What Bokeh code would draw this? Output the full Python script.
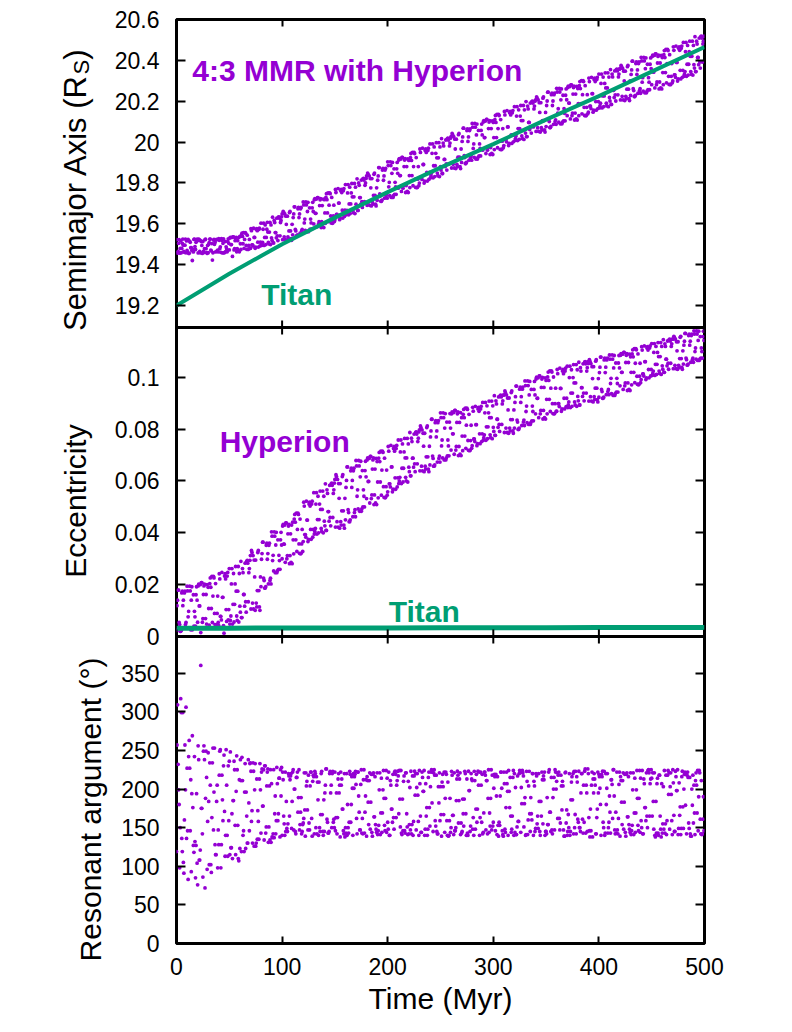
from bokeh.plotting import figure
from bokeh.models import (ColumnDataSource, Range1d, LinearAxis, FixedTicker, Label,
                          CustomLabelingPolicy)
from bokeh.layouts import row
from bokeh.embed import file_html
from bokeh.resources import INLINE

FONT = "Liberation Sans"
PURPLE = "#9400D3"
GREEN = "#009E73"

# ---------------- data ----------------
time_myr = [
    0, 1, 2, 3, 4, 5, 6, 7, 8, 9, 10, 11, 12, 13, 14, 15, 16, 17, 18, 19,
    20, 21, 22, 23, 24, 25, 26, 27, 28, 29, 30, 31, 32, 33, 34, 35, 36, 37, 38, 39,
    40, 41, 42, 43, 44, 45, 46, 47, 48, 49, 50, 51, 52, 53, 54, 55, 56, 57, 58, 59,
    60, 61, 62, 63, 64, 65, 66, 67, 68, 69, 70, 71, 72, 73, 74, 75, 76, 77, 78, 79,
    80, 81, 82, 83, 84, 85, 86, 87, 88, 89, 90, 91, 92, 93, 94, 95, 96, 97, 98, 99,
    100, 101, 102, 103, 104, 105, 106, 107, 108, 109, 110, 111, 112, 113, 114, 115, 116, 117, 118, 119,
    120, 121, 122, 123, 124, 125, 126, 127, 128, 129, 130, 131, 132, 133, 134, 135, 136, 137, 138, 139,
    140, 141, 142, 143, 144, 145, 146, 147, 148, 149, 150, 151, 152, 153, 154, 155, 156, 157, 158, 159,
    160, 161, 162, 163, 164, 165, 166, 167, 168, 169, 170, 171, 172, 173, 174, 175, 176, 177, 178, 179,
    180, 181, 182, 183, 184, 185, 186, 187, 188, 189, 190, 191, 192, 193, 194, 195, 196, 197, 198, 199,
    200, 201, 202, 203, 204, 205, 206, 207, 208, 209, 210, 211, 212, 213, 214, 215, 216, 217, 218, 219,
    220, 221, 222, 223, 224, 225, 226, 227, 228, 229, 230, 231, 232, 233, 234, 235, 236, 237, 238, 239,
    240, 241, 242, 243, 244, 245, 246, 247, 248, 249, 250, 251, 252, 253, 254, 255, 256, 257, 258, 259,
    260, 261, 262, 263, 264, 265, 266, 267, 268, 269, 270, 271, 272, 273, 274, 275, 276, 277, 278, 279,
    280, 281, 282, 283, 284, 285, 286, 287, 288, 289, 290, 291, 292, 293, 294, 295, 296, 297, 298, 299,
    300, 301, 302, 303, 304, 305, 306, 307, 308, 309, 310, 311, 312, 313, 314, 315, 316, 317, 318, 319,
    320, 321, 322, 323, 324, 325, 326, 327, 328, 329, 330, 331, 332, 333, 334, 335, 336, 337, 338, 339,
    340, 341, 342, 343, 344, 345, 346, 347, 348, 349, 350, 351, 352, 353, 354, 355, 356, 357, 358, 359,
    360, 361, 362, 363, 364, 365, 366, 367, 368, 369, 370, 371, 372, 373, 374, 375, 376, 377, 378, 379,
    380, 381, 382, 383, 384, 385, 386, 387, 388, 389, 390, 391, 392, 393, 394, 395, 396, 397, 398, 399,
    400, 401, 402, 403, 404, 405, 406, 407, 408, 409, 410, 411, 412, 413, 414, 415, 416, 417, 418, 419,
    420, 421, 422, 423, 424, 425, 426, 427, 428, 429, 430, 431, 432, 433, 434, 435, 436, 437, 438, 439,
    440, 441, 442, 443, 444, 445, 446, 447, 448, 449, 450, 451, 452, 453, 454, 455, 456, 457, 458, 459,
    460, 461, 462, 463, 464, 465, 466, 467, 468, 469, 470, 471, 472, 473, 474, 475, 476, 477, 478, 479,
    480, 481, 482, 483, 484, 485, 486, 487, 488, 489, 490, 491, 492, 493, 494, 495, 496, 497, 498, 499,
]

time_myr_b = [
    0.5, 1.5, 2.5, 3.5, 4.5, 5.5, 6.5, 7.5, 8.5, 9.5, 10.5, 11.5, 12.5, 13.5, 14.5, 15.5, 16.5, 17.5, 18.5, 19.5,
    20.5, 21.5, 22.5, 23.5, 24.5, 25.5, 26.5, 27.5, 28.5, 29.5, 30.5, 31.5, 32.5, 33.5, 34.5, 35.5, 36.5, 37.5, 38.5, 39.5,
    40.5, 41.5, 42.5, 43.5, 44.5, 45.5, 46.5, 47.5, 48.5, 49.5, 50.5, 51.5, 52.5, 53.5, 54.5, 55.5, 56.5, 57.5, 58.5, 59.5,
    60.5, 61.5, 62.5, 63.5, 64.5, 65.5, 66.5, 67.5, 68.5, 69.5, 70.5, 71.5, 72.5, 73.5, 74.5, 75.5, 76.5, 77.5, 78.5, 79.5,
    80.5, 81.5, 82.5, 83.5, 84.5, 85.5, 86.5, 87.5, 88.5, 89.5, 90.5, 91.5, 92.5, 93.5, 94.5, 95.5, 96.5, 97.5, 98.5, 99.5,
    100.5, 101.5, 102.5, 103.5, 104.5, 105.5, 106.5, 107.5, 108.5, 109.5, 110.5, 111.5, 112.5, 113.5, 114.5, 115.5, 116.5, 117.5, 118.5, 119.5,
    120.5, 121.5, 122.5, 123.5, 124.5, 125.5, 126.5, 127.5, 128.5, 129.5, 130.5, 131.5, 132.5, 133.5, 134.5, 135.5, 136.5, 137.5, 138.5, 139.5,
    140.5, 141.5, 142.5, 143.5, 144.5, 145.5, 146.5, 147.5, 148.5, 149.5, 150.5, 151.5, 152.5, 153.5, 154.5, 155.5, 156.5, 157.5, 158.5, 159.5,
    160.5, 161.5, 162.5, 163.5, 164.5, 165.5, 166.5, 167.5, 168.5, 169.5, 170.5, 171.5, 172.5, 173.5, 174.5, 175.5, 176.5, 177.5, 178.5, 179.5,
    180.5, 181.5, 182.5, 183.5, 184.5, 185.5, 186.5, 187.5, 188.5, 189.5, 190.5, 191.5, 192.5, 193.5, 194.5, 195.5, 196.5, 197.5, 198.5, 199.5,
    200.5, 201.5, 202.5, 203.5, 204.5, 205.5, 206.5, 207.5, 208.5, 209.5, 210.5, 211.5, 212.5, 213.5, 214.5, 215.5, 216.5, 217.5, 218.5, 219.5,
    220.5, 221.5, 222.5, 223.5, 224.5, 225.5, 226.5, 227.5, 228.5, 229.5, 230.5, 231.5, 232.5, 233.5, 234.5, 235.5, 236.5, 237.5, 238.5, 239.5,
    240.5, 241.5, 242.5, 243.5, 244.5, 245.5, 246.5, 247.5, 248.5, 249.5, 250.5, 251.5, 252.5, 253.5, 254.5, 255.5, 256.5, 257.5, 258.5, 259.5,
    260.5, 261.5, 262.5, 263.5, 264.5, 265.5, 266.5, 267.5, 268.5, 269.5, 270.5, 271.5, 272.5, 273.5, 274.5, 275.5, 276.5, 277.5, 278.5, 279.5,
    280.5, 281.5, 282.5, 283.5, 284.5, 285.5, 286.5, 287.5, 288.5, 289.5, 290.5, 291.5, 292.5, 293.5, 294.5, 295.5, 296.5, 297.5, 298.5, 299.5,
    300.5, 301.5, 302.5, 303.5, 304.5, 305.5, 306.5, 307.5, 308.5, 309.5, 310.5, 311.5, 312.5, 313.5, 314.5, 315.5, 316.5, 317.5, 318.5, 319.5,
    320.5, 321.5, 322.5, 323.5, 324.5, 325.5, 326.5, 327.5, 328.5, 329.5, 330.5, 331.5, 332.5, 333.5, 334.5, 335.5, 336.5, 337.5, 338.5, 339.5,
    340.5, 341.5, 342.5, 343.5, 344.5, 345.5, 346.5, 347.5, 348.5, 349.5, 350.5, 351.5, 352.5, 353.5, 354.5, 355.5, 356.5, 357.5, 358.5, 359.5,
    360.5, 361.5, 362.5, 363.5, 364.5, 365.5, 366.5, 367.5, 368.5, 369.5, 370.5, 371.5, 372.5, 373.5, 374.5, 375.5, 376.5, 377.5, 378.5, 379.5,
    380.5, 381.5, 382.5, 383.5, 384.5, 385.5, 386.5, 387.5, 388.5, 389.5, 390.5, 391.5, 392.5, 393.5, 394.5, 395.5, 396.5, 397.5, 398.5, 399.5,
    400.5, 401.5, 402.5, 403.5, 404.5, 405.5, 406.5, 407.5, 408.5, 409.5, 410.5, 411.5, 412.5, 413.5, 414.5, 415.5, 416.5, 417.5, 418.5, 419.5,
    420.5, 421.5, 422.5, 423.5, 424.5, 425.5, 426.5, 427.5, 428.5, 429.5, 430.5, 431.5, 432.5, 433.5, 434.5, 435.5, 436.5, 437.5, 438.5, 439.5,
    440.5, 441.5, 442.5, 443.5, 444.5, 445.5, 446.5, 447.5, 448.5, 449.5, 450.5, 451.5, 452.5, 453.5, 454.5, 455.5, 456.5, 457.5, 458.5, 459.5,
    460.5, 461.5, 462.5, 463.5, 464.5, 465.5, 466.5, 467.5, 468.5, 469.5, 470.5, 471.5, 472.5, 473.5, 474.5, 475.5, 476.5, 477.5, 478.5, 479.5,
    480.5, 481.5, 482.5, 483.5, 484.5, 485.5, 486.5, 487.5, 488.5, 489.5, 490.5, 491.5, 492.5, 493.5, 494.5, 495.5, 496.5, 497.5, 498.5, 499.5,
]

hyperion_a = [
    19.522, 19.460, 19.504, 19.456, 19.516, 19.479, 19.525, 19.465, 19.495, 19.458,
    19.469, 19.523, 19.455, 19.509, 19.483, 19.420, 19.462, 19.524, 19.474, 19.515,
    19.518, 19.524, 19.464, 19.457, 19.494, 19.513, 19.459, 19.522, 19.478, 19.455,
    19.458, 19.508, 19.525, 19.467, 19.422, 19.520, 19.499, 19.462, 19.523, 19.471,
    19.527, 19.478, 19.460, 19.519, 19.504, 19.457, 19.513, 19.487, 19.463, 19.526,
    19.472, 19.533, 19.498, 19.440, 19.536, 19.478, 19.530, 19.463, 19.517, 19.533,
    19.538, 19.474, 19.554, 19.502, 19.479, 19.557, 19.494, 19.544, 19.475, 19.523,
    19.480, 19.566, 19.497, 19.578, 19.533, 19.486, 19.576, 19.510, 19.572, 19.491,
    19.603, 19.501, 19.573, 19.494, 19.594, 19.533, 19.607, 19.509, 19.559, 19.498,
    19.531, 19.632, 19.506, 19.606, 19.557, 19.627, 19.518, 19.634, 19.541, 19.616,
    19.648, 19.660, 19.536, 19.522, 19.597, 19.637, 19.527, 19.655, 19.565, 19.519,
    19.546, 19.648, 19.683, 19.565, 19.541, 19.673, 19.630, 19.554, 19.680, 19.572,
    19.707, 19.604, 19.567, 19.692, 19.660, 19.561, 19.678, 19.623, 19.573, 19.705,
    19.599, 19.723, 19.651, 19.585, 19.728, 19.610, 19.717, 19.581, 19.689, 19.721,
    19.718, 19.602, 19.747, 19.653, 19.611, 19.751, 19.638, 19.729, 19.604, 19.691,
    19.620, 19.753, 19.646, 19.772, 19.701, 19.628, 19.768, 19.666, 19.762, 19.636,
    19.792, 19.654, 19.751, 19.644, 19.779, 19.697, 19.797, 19.665, 19.732, 19.650,
    19.696, 19.820, 19.665, 19.788, 19.728, 19.814, 19.680, 19.822, 19.708, 19.800,
    19.834, 19.848, 19.706, 19.690, 19.776, 19.821, 19.696, 19.842, 19.739, 19.687,
    19.715, 19.834, 19.875, 19.737, 19.710, 19.863, 19.813, 19.725, 19.871, 19.746,
    19.903, 19.781, 19.737, 19.885, 19.847, 19.729, 19.869, 19.803, 19.744, 19.900,
    19.774, 19.919, 19.836, 19.758, 19.925, 19.787, 19.912, 19.753, 19.880, 19.917,
    19.910, 19.777, 19.944, 19.836, 19.786, 19.949, 19.818, 19.924, 19.778, 19.880,
    19.799, 19.949, 19.829, 19.970, 19.890, 19.809, 19.966, 19.851, 19.959, 19.817,
    19.991, 19.835, 19.945, 19.825, 19.976, 19.884, 19.997, 19.848, 19.923, 19.831,
    19.880, 20.017, 19.846, 19.981, 19.915, 20.010, 19.863, 20.019, 19.893, 19.995,
    20.027, 20.042, 19.891, 19.873, 19.966, 20.014, 19.880, 20.036, 19.926, 19.870,
    19.900, 20.025, 20.068, 19.924, 19.895, 20.056, 20.003, 19.911, 20.064, 19.933,
    20.091, 19.969, 19.925, 20.073, 20.035, 19.917, 20.057, 19.991, 19.932, 20.088,
    19.960, 20.105, 20.022, 19.944, 20.111, 19.973, 20.098, 19.939, 20.066, 20.103,
    20.096, 19.963, 20.130, 20.022, 19.972, 20.135, 20.004, 20.110, 19.964, 20.066,
    19.983, 20.133, 20.013, 20.154, 20.074, 19.993, 20.150, 20.035, 20.143, 20.001,
    20.173, 20.017, 20.127, 20.007, 20.158, 20.066, 20.179, 20.030, 20.105, 20.013,
    20.061, 20.198, 20.027, 20.162, 20.096, 20.191, 20.044, 20.200, 20.074, 20.176,
    20.206, 20.221, 20.070, 20.052, 20.145, 20.193, 20.059, 20.215, 20.105, 20.049,
    20.076, 20.201, 20.244, 20.100, 20.071, 20.232, 20.179, 20.087, 20.240, 20.109,
    20.263, 20.141, 20.097, 20.245, 20.207, 20.089, 20.229, 20.163, 20.104, 20.260,
    20.129, 20.274, 20.191, 20.113, 20.280, 20.142, 20.267, 20.108, 20.235, 20.272,
    20.262, 20.129, 20.296, 20.188, 20.138, 20.301, 20.170, 20.276, 20.130, 20.232,
    20.146, 20.296, 20.176, 20.317, 20.237, 20.156, 20.313, 20.198, 20.306, 20.164,
    20.333, 20.177, 20.287, 20.167, 20.318, 20.226, 20.339, 20.190, 20.265, 20.173,
    20.218, 20.355, 20.184, 20.319, 20.253, 20.348, 20.201, 20.357, 20.231, 20.333,
    20.360, 20.375, 20.224, 20.206, 20.299, 20.347, 20.213, 20.369, 20.259, 20.203,
    20.228, 20.353, 20.396, 20.252, 20.223, 20.384, 20.331, 20.239, 20.392, 20.261,
    20.415, 20.293, 20.249, 20.397, 20.359, 20.241, 20.381, 20.315, 20.256, 20.412,
    20.281, 20.426, 20.343, 20.265, 20.432, 20.294, 20.419, 20.260, 20.387, 20.424,
    20.414, 20.281, 20.448, 20.340, 20.290, 20.453, 20.322, 20.428, 20.282, 20.384,
    20.299, 20.449, 20.329, 20.470, 20.390, 20.309, 20.466, 20.351, 20.459, 20.317,
    20.488, 20.332, 20.442, 20.322, 20.473, 20.381, 20.494, 20.345, 20.420, 20.328,
    20.379, 20.516, 20.345, 20.480, 20.414, 20.509, 20.362, 20.518, 20.392, 20.494,
]

hyperion_a_b = [
    19.456, 19.465, 19.522, 19.479, 19.458, 19.504, 19.495, 19.460, 19.525, 19.516,
    19.462, 19.455, 19.515, 19.483, 19.469, 19.474, 19.523, 19.488, 19.509, 19.524,
    19.457, 19.522, 19.518, 19.513, 19.455, 19.464, 19.478, 19.524, 19.459, 19.494,
    19.499, 19.525, 19.471, 19.503, 19.458, 19.523, 19.508, 19.520, 19.467, 19.462,
    19.519, 19.487, 19.527, 19.457, 19.526, 19.460, 19.463, 19.478, 19.513, 19.504,
    19.530, 19.498, 19.533, 19.536, 19.472, 19.517, 19.533, 19.478, 19.470, 19.463,
    19.502, 19.544, 19.538, 19.557, 19.523, 19.554, 19.475, 19.474, 19.494, 19.479,
    19.576, 19.497, 19.491, 19.533, 19.480, 19.572, 19.566, 19.486, 19.578, 19.510,
    19.494, 19.509, 19.603, 19.533, 19.498, 19.573, 19.559, 19.501, 19.607, 19.594,
    19.518, 19.506, 19.616, 19.557, 19.531, 19.541, 19.632, 19.627, 19.606, 19.634,
    19.522, 19.655, 19.648, 19.637, 19.519, 19.536, 19.565, 19.660, 19.527, 19.597,
    19.630, 19.683, 19.572, 19.541, 19.546, 19.680, 19.648, 19.673, 19.565, 19.554,
    19.692, 19.623, 19.707, 19.561, 19.705, 19.567, 19.573, 19.604, 19.678, 19.660,
    19.717, 19.651, 19.721, 19.728, 19.599, 19.689, 19.723, 19.610, 19.585, 19.581,
    19.653, 19.729, 19.718, 19.751, 19.691, 19.747, 19.604, 19.602, 19.638, 19.611,
    19.768, 19.646, 19.636, 19.701, 19.620, 19.762, 19.753, 19.628, 19.772, 19.666,
    19.644, 19.665, 19.792, 19.697, 19.650, 19.751, 19.732, 19.654, 19.797, 19.779,
    19.680, 19.665, 19.800, 19.728, 19.696, 19.708, 19.820, 19.814, 19.788, 19.822,
    19.690, 19.842, 19.834, 19.821, 19.687, 19.706, 19.739, 19.848, 19.696, 19.776,
    19.813, 19.875, 19.746, 19.710, 19.715, 19.871, 19.834, 19.863, 19.737, 19.725,
    19.885, 19.803, 19.903, 19.729, 19.900, 19.737, 19.744, 19.781, 19.869, 19.847,
    19.912, 19.836, 19.917, 19.925, 19.774, 19.880, 19.919, 19.787, 19.758, 19.753,
    19.836, 19.924, 19.910, 19.949, 19.880, 19.944, 19.778, 19.777, 19.818, 19.786,
    19.966, 19.829, 19.817, 19.890, 19.799, 19.959, 19.949, 19.809, 19.970, 19.851,
    19.825, 19.848, 19.991, 19.884, 19.831, 19.945, 19.923, 19.835, 19.997, 19.976,
    19.863, 19.846, 19.995, 19.915, 19.880, 19.893, 20.017, 20.010, 19.981, 20.019,
    19.873, 20.036, 20.027, 20.014, 19.870, 19.891, 19.926, 20.042, 19.880, 19.966,
    20.003, 20.068, 19.933, 19.895, 19.900, 20.064, 20.025, 20.056, 19.924, 19.911,
    20.073, 19.991, 20.091, 19.917, 20.088, 19.925, 19.932, 19.969, 20.057, 20.035,
    20.098, 20.022, 20.103, 20.111, 19.960, 20.066, 20.105, 19.973, 19.944, 19.939,
    20.022, 20.110, 20.096, 20.135, 20.066, 20.130, 19.964, 19.963, 20.004, 19.972,
    20.150, 20.013, 20.001, 20.074, 19.983, 20.143, 20.133, 19.993, 20.154, 20.035,
    20.007, 20.030, 20.173, 20.066, 20.013, 20.127, 20.105, 20.017, 20.179, 20.158,
    20.044, 20.027, 20.176, 20.096, 20.061, 20.074, 20.198, 20.191, 20.162, 20.200,
    20.052, 20.215, 20.206, 20.193, 20.049, 20.070, 20.105, 20.221, 20.059, 20.145,
    20.179, 20.244, 20.109, 20.071, 20.076, 20.240, 20.201, 20.232, 20.100, 20.087,
    20.245, 20.163, 20.263, 20.089, 20.260, 20.097, 20.104, 20.141, 20.229, 20.207,
    20.267, 20.191, 20.272, 20.280, 20.129, 20.235, 20.274, 20.142, 20.113, 20.108,
    20.188, 20.276, 20.262, 20.301, 20.232, 20.296, 20.130, 20.129, 20.170, 20.138,
    20.313, 20.176, 20.164, 20.237, 20.146, 20.306, 20.296, 20.156, 20.317, 20.198,
    20.167, 20.190, 20.333, 20.226, 20.173, 20.287, 20.265, 20.177, 20.339, 20.318,
    20.201, 20.184, 20.333, 20.253, 20.218, 20.231, 20.355, 20.348, 20.319, 20.357,
    20.206, 20.369, 20.360, 20.347, 20.203, 20.224, 20.259, 20.375, 20.213, 20.299,
    20.331, 20.396, 20.261, 20.223, 20.228, 20.392, 20.353, 20.384, 20.252, 20.239,
    20.397, 20.315, 20.415, 20.241, 20.412, 20.249, 20.256, 20.293, 20.381, 20.359,
    20.419, 20.343, 20.424, 20.432, 20.281, 20.387, 20.426, 20.294, 20.265, 20.260,
    20.340, 20.428, 20.414, 20.453, 20.384, 20.448, 20.282, 20.281, 20.322, 20.290,
    20.466, 20.329, 20.317, 20.390, 20.299, 20.459, 20.449, 20.309, 20.470, 20.351,
    20.322, 20.345, 20.488, 20.381, 20.328, 20.442, 20.420, 20.332, 20.494, 20.473,
    20.362, 20.345, 20.494, 20.414, 20.379, 20.392, 20.516, 20.509, 20.480, 20.518,
]

hyperion_e = [
    0.0024, 0.0140, 0.0179, 0.0046, 0.0020, 0.0168, 0.0119, 0.0034, 0.0175, 0.0054,
    0.0194, 0.0076, 0.0033, 0.0176, 0.0140, 0.0026, 0.0161, 0.0097, 0.0040, 0.0192,
    0.0055, 0.0202, 0.0118, 0.0015, 0.0208, 0.0069, 0.0195, 0.0034, 0.0162, 0.0200,
    0.0190, 0.0044, 0.0226, 0.0108, 0.0054, 0.0232, 0.0089, 0.0204, 0.0046, 0.0156,
    0.0042, 0.0222, 0.0078, 0.0247, 0.0151, 0.0013, 0.0242, 0.0104, 0.0233, 0.0064,
    0.0262, 0.0062, 0.0203, 0.0048, 0.0243, 0.0124, 0.0270, 0.0079, 0.0175, 0.0056,
    0.0117, 0.0290, 0.0073, 0.0246, 0.0162, 0.0283, 0.0094, 0.0294, 0.0134, 0.0262,
    0.0312, 0.0332, 0.0129, 0.0106, 0.0230, 0.0295, 0.0114, 0.0324, 0.0177, 0.0101,
    0.0192, 0.0320, 0.0364, 0.0216, 0.0187, 0.0352, 0.0298, 0.0203, 0.0360, 0.0225,
    0.0404, 0.0293, 0.0253, 0.0387, 0.0353, 0.0246, 0.0373, 0.0313, 0.0259, 0.0402,
    0.0300, 0.0432, 0.0356, 0.0286, 0.0438, 0.0312, 0.0426, 0.0281, 0.0396, 0.0430,
    0.0441, 0.0319, 0.0471, 0.0373, 0.0328, 0.0476, 0.0357, 0.0453, 0.0321, 0.0413,
    0.0366, 0.0503, 0.0393, 0.0522, 0.0449, 0.0375, 0.0518, 0.0413, 0.0511, 0.0383,
    0.0555, 0.0405, 0.0511, 0.0395, 0.0541, 0.0451, 0.0561, 0.0417, 0.0490, 0.0400,
    0.0445, 0.0589, 0.0409, 0.0552, 0.0482, 0.0583, 0.0427, 0.0592, 0.0459, 0.0566,
    0.0606, 0.0624, 0.0443, 0.0422, 0.0533, 0.0590, 0.0430, 0.0617, 0.0485, 0.0418,
    0.0450, 0.0602, 0.0654, 0.0478, 0.0443, 0.0639, 0.0575, 0.0462, 0.0649, 0.0489,
    0.0679, 0.0541, 0.0492, 0.0658, 0.0616, 0.0483, 0.0640, 0.0566, 0.0500, 0.0676,
    0.0532, 0.0689, 0.0598, 0.0515, 0.0695, 0.0546, 0.0681, 0.0509, 0.0646, 0.0687,
    0.0675, 0.0535, 0.0710, 0.0596, 0.0545, 0.0715, 0.0578, 0.0688, 0.0537, 0.0642,
    0.0558, 0.0715, 0.0589, 0.0737, 0.0654, 0.0568, 0.0733, 0.0612, 0.0725, 0.0577,
    0.0758, 0.0600, 0.0712, 0.0590, 0.0743, 0.0649, 0.0764, 0.0614, 0.0689, 0.0596,
    0.0653, 0.0787, 0.0620, 0.0752, 0.0688, 0.0781, 0.0636, 0.0789, 0.0666, 0.0765,
    0.0797, 0.0812, 0.0657, 0.0639, 0.0734, 0.0784, 0.0646, 0.0806, 0.0693, 0.0636,
    0.0662, 0.0793, 0.0838, 0.0687, 0.0657, 0.0825, 0.0770, 0.0673, 0.0833, 0.0696,
    0.0863, 0.0735, 0.0689, 0.0844, 0.0804, 0.0681, 0.0827, 0.0758, 0.0697, 0.0860,
    0.0719, 0.0866, 0.0782, 0.0703, 0.0872, 0.0733, 0.0859, 0.0698, 0.0826, 0.0864,
    0.0844, 0.0717, 0.0876, 0.0773, 0.0726, 0.0881, 0.0756, 0.0857, 0.0718, 0.0815,
    0.0736, 0.0869, 0.0762, 0.0888, 0.0817, 0.0744, 0.0884, 0.0782, 0.0878, 0.0752,
    0.0903, 0.0767, 0.0863, 0.0757, 0.0890, 0.0809, 0.0908, 0.0778, 0.0844, 0.0763,
    0.0807, 0.0929, 0.0776, 0.0897, 0.0838, 0.0924, 0.0791, 0.0931, 0.0818, 0.0909,
    0.0932, 0.0947, 0.0804, 0.0787, 0.0874, 0.0920, 0.0793, 0.0941, 0.0837, 0.0784,
    0.0804, 0.0925, 0.0966, 0.0827, 0.0799, 0.0954, 0.0903, 0.0814, 0.0962, 0.0835,
    0.0986, 0.0868, 0.0825, 0.0968, 0.0932, 0.0818, 0.0953, 0.0889, 0.0832, 0.0984,
    0.0859, 0.1000, 0.0919, 0.0844, 0.1005, 0.0872, 0.0993, 0.0839, 0.0961, 0.0998,
    0.0988, 0.0859, 0.1020, 0.0915, 0.0868, 0.1025, 0.0898, 0.1001, 0.0860, 0.0958,
    0.0869, 0.1014, 0.0898, 0.1035, 0.0957, 0.0878, 0.1030, 0.0919, 0.1024, 0.0887,
    0.1043, 0.0893, 0.0999, 0.0883, 0.1029, 0.0939, 0.1049, 0.0905, 0.0978, 0.0888,
    0.0926, 0.1058, 0.0893, 0.1024, 0.0960, 0.1052, 0.0909, 0.1060, 0.0939, 0.1037,
    0.1053, 0.1068, 0.0925, 0.0908, 0.0995, 0.1041, 0.0914, 0.1062, 0.0958, 0.0905,
    0.0923, 0.1039, 0.1078, 0.0945, 0.0919, 0.1067, 0.1018, 0.0933, 0.1074, 0.0953,
    0.1086, 0.0976, 0.0937, 0.1070, 0.1036, 0.0930, 0.1055, 0.0996, 0.0943, 0.1084,
    0.0967, 0.1091, 0.1019, 0.0953, 0.1096, 0.0978, 0.1085, 0.0949, 0.1057, 0.1089,
    0.1079, 0.0971, 0.1106, 0.1019, 0.0979, 0.1110, 0.1004, 0.1090, 0.0973, 0.1054,
    0.0991, 0.1105, 0.1013, 0.1121, 0.1060, 0.0998, 0.1118, 0.1030, 0.1113, 0.1005,
    0.1130, 0.1015, 0.1096, 0.1007, 0.1119, 0.1050, 0.1134, 0.1024, 0.1080, 0.1011,
    0.1044, 0.1145, 0.1019, 0.1119, 0.1070, 0.1140, 0.1031, 0.1147, 0.1054, 0.1129,
    0.1147, 0.1158, 0.1046, 0.1033, 0.1102, 0.1137, 0.1038, 0.1154, 0.1072, 0.1031,
    0.1051, 0.1139, 0.1169, 0.1068, 0.1047, 0.1161, 0.1124, 0.1058, 0.1166, 0.1074,
    0.1179, 0.1099, 0.1070, 0.1167, 0.1142, 0.1065, 0.1157, 0.1113, 0.1074, 0.1178,
]

hyperion_e_b = [
    0.0119, 0.0179, 0.0054, 0.0020, 0.0024, 0.0175, 0.0140, 0.0168, 0.0046, 0.0034,
    0.0176, 0.0097, 0.0194, 0.0026, 0.0192, 0.0033, 0.0040, 0.0076, 0.0161, 0.0140,
    0.0195, 0.0118, 0.0200, 0.0208, 0.0055, 0.0162, 0.0202, 0.0069, 0.0048, 0.0034,
    0.0108, 0.0204, 0.0190, 0.0232, 0.0156, 0.0226, 0.0046, 0.0044, 0.0089, 0.0054,
    0.0242, 0.0078, 0.0064, 0.0151, 0.0042, 0.0233, 0.0222, 0.0058, 0.0247, 0.0104,
    0.0048, 0.0079, 0.0262, 0.0124, 0.0056, 0.0203, 0.0175, 0.0062, 0.0270, 0.0243,
    0.0094, 0.0073, 0.0262, 0.0162, 0.0117, 0.0134, 0.0290, 0.0283, 0.0246, 0.0294,
    0.0106, 0.0324, 0.0312, 0.0295, 0.0101, 0.0129, 0.0177, 0.0332, 0.0114, 0.0230,
    0.0298, 0.0364, 0.0225, 0.0187, 0.0192, 0.0360, 0.0320, 0.0352, 0.0216, 0.0203,
    0.0387, 0.0313, 0.0404, 0.0246, 0.0402, 0.0253, 0.0259, 0.0293, 0.0373, 0.0353,
    0.0426, 0.0356, 0.0430, 0.0438, 0.0300, 0.0396, 0.0432, 0.0312, 0.0286, 0.0281,
    0.0373, 0.0453, 0.0441, 0.0476, 0.0413, 0.0471, 0.0321, 0.0319, 0.0357, 0.0328,
    0.0518, 0.0393, 0.0383, 0.0449, 0.0366, 0.0511, 0.0503, 0.0375, 0.0522, 0.0413,
    0.0395, 0.0417, 0.0555, 0.0451, 0.0400, 0.0511, 0.0490, 0.0405, 0.0561, 0.0541,
    0.0427, 0.0409, 0.0566, 0.0482, 0.0445, 0.0459, 0.0589, 0.0583, 0.0552, 0.0592,
    0.0422, 0.0617, 0.0606, 0.0590, 0.0418, 0.0443, 0.0485, 0.0624, 0.0430, 0.0533,
    0.0575, 0.0654, 0.0489, 0.0443, 0.0450, 0.0649, 0.0602, 0.0639, 0.0478, 0.0462,
    0.0658, 0.0566, 0.0679, 0.0483, 0.0676, 0.0492, 0.0500, 0.0541, 0.0640, 0.0616,
    0.0681, 0.0598, 0.0687, 0.0695, 0.0532, 0.0646, 0.0689, 0.0546, 0.0515, 0.0509,
    0.0596, 0.0688, 0.0675, 0.0715, 0.0642, 0.0710, 0.0537, 0.0535, 0.0578, 0.0545,
    0.0733, 0.0589, 0.0577, 0.0654, 0.0558, 0.0725, 0.0715, 0.0568, 0.0737, 0.0612,
    0.0590, 0.0614, 0.0758, 0.0649, 0.0596, 0.0712, 0.0689, 0.0600, 0.0764, 0.0743,
    0.0636, 0.0620, 0.0765, 0.0688, 0.0653, 0.0666, 0.0787, 0.0781, 0.0752, 0.0789,
    0.0639, 0.0806, 0.0797, 0.0784, 0.0636, 0.0657, 0.0693, 0.0812, 0.0646, 0.0734,
    0.0770, 0.0838, 0.0696, 0.0657, 0.0662, 0.0833, 0.0793, 0.0825, 0.0687, 0.0673,
    0.0844, 0.0758, 0.0863, 0.0681, 0.0860, 0.0689, 0.0697, 0.0735, 0.0827, 0.0804,
    0.0859, 0.0782, 0.0864, 0.0872, 0.0719, 0.0826, 0.0866, 0.0733, 0.0703, 0.0698,
    0.0773, 0.0857, 0.0844, 0.0881, 0.0815, 0.0876, 0.0718, 0.0717, 0.0756, 0.0726,
    0.0884, 0.0762, 0.0752, 0.0817, 0.0736, 0.0878, 0.0869, 0.0744, 0.0888, 0.0782,
    0.0757, 0.0778, 0.0903, 0.0809, 0.0763, 0.0863, 0.0844, 0.0767, 0.0908, 0.0890,
    0.0791, 0.0776, 0.0909, 0.0838, 0.0807, 0.0818, 0.0929, 0.0924, 0.0897, 0.0931,
    0.0787, 0.0941, 0.0932, 0.0920, 0.0784, 0.0804, 0.0837, 0.0947, 0.0793, 0.0874,
    0.0903, 0.0966, 0.0835, 0.0799, 0.0804, 0.0962, 0.0925, 0.0954, 0.0827, 0.0814,
    0.0968, 0.0889, 0.0986, 0.0818, 0.0984, 0.0825, 0.0832, 0.0868, 0.0953, 0.0932,
    0.0993, 0.0919, 0.0998, 0.1005, 0.0859, 0.0961, 0.1000, 0.0872, 0.0844, 0.0839,
    0.0915, 0.1001, 0.0988, 0.1025, 0.0958, 0.1020, 0.0860, 0.0859, 0.0898, 0.0868,
    0.1030, 0.0898, 0.0887, 0.0957, 0.0869, 0.1024, 0.1014, 0.0878, 0.1035, 0.0919,
    0.0883, 0.0905, 0.1043, 0.0939, 0.0888, 0.0999, 0.0978, 0.0893, 0.1049, 0.1029,
    0.0909, 0.0893, 0.1037, 0.0960, 0.0926, 0.0939, 0.1058, 0.1052, 0.1024, 0.1060,
    0.0908, 0.1062, 0.1053, 0.1041, 0.0905, 0.0925, 0.0958, 0.1068, 0.0914, 0.0995,
    0.1018, 0.1078, 0.0953, 0.0919, 0.0923, 0.1074, 0.1039, 0.1067, 0.0945, 0.0933,
    0.1070, 0.0996, 0.1086, 0.0930, 0.1084, 0.0937, 0.0943, 0.0976, 0.1055, 0.1036,
    0.1085, 0.1019, 0.1089, 0.1096, 0.0967, 0.1057, 0.1091, 0.0978, 0.0953, 0.0949,
    0.1019, 0.1090, 0.1079, 0.1110, 0.1054, 0.1106, 0.0973, 0.0971, 0.1004, 0.0979,
    0.1118, 0.1013, 0.1005, 0.1060, 0.0991, 0.1113, 0.1105, 0.0998, 0.1121, 0.1030,
    0.1007, 0.1024, 0.1130, 0.1050, 0.1011, 0.1096, 0.1080, 0.1015, 0.1134, 0.1119,
    0.1031, 0.1019, 0.1129, 0.1070, 0.1044, 0.1054, 0.1145, 0.1140, 0.1119, 0.1147,
    0.1033, 0.1154, 0.1147, 0.1137, 0.1031, 0.1046, 0.1072, 0.1158, 0.1038, 0.1102,
    0.1124, 0.1169, 0.1074, 0.1047, 0.1051, 0.1166, 0.1139, 0.1161, 0.1068, 0.1058,
    0.1167, 0.1113, 0.1179, 0.1065, 0.1178, 0.1070, 0.1074, 0.1099, 0.1157, 0.1142,
]

resonant_arg = [
    119, 309, 199, 98, 317, 136, 299, 91, 257, 306,
    227, 83, 263, 146, 93, 269, 127, 242, 85, 194,
    76, 238, 108, 360, 175, 86, 256, 72, 249, 96,
    247, 102, 205, 92, 234, 147, 253, 115, 184, 98,
    128, 249, 98, 218, 159, 244, 113, 251, 140, 230,
    236, 248, 124, 110, 185, 225, 115, 243, 153, 107,
    123, 211, 241, 140, 119, 233, 196, 130, 238, 146,
    234, 158, 130, 223, 199, 126, 213, 172, 135, 233,
    143, 226, 178, 134, 230, 151, 222, 131, 204, 225,
    207, 137, 225, 168, 142, 228, 159, 214, 138, 191,
    140, 212, 155, 222, 184, 145, 220, 165, 217, 149,
    222, 147, 200, 142, 215, 170, 225, 154, 189, 145,
    156, 221, 139, 204, 173, 218, 147, 222, 162, 210,
    216, 223, 150, 142, 186, 209, 145, 220, 167, 140,
    145, 205, 226, 157, 143, 220, 195, 150, 223, 161,
    222, 163, 142, 213, 195, 138, 205, 174, 146, 220,
    150, 220, 180, 143, 223, 157, 216, 140, 201, 219,
    206, 142, 222, 170, 147, 225, 162, 212, 143, 191,
    139, 211, 154, 221, 183, 144, 219, 164, 216, 148,
    221, 146, 199, 141, 214, 169, 224, 153, 188, 144,
    157, 222, 140, 205, 174, 219, 148, 223, 163, 211,
    217, 224, 151, 143, 187, 210, 146, 221, 168, 141,
    142, 202, 223, 154, 140, 217, 192, 147, 220, 158,
    224, 165, 144, 215, 197, 140, 207, 176, 148, 222,
    152, 222, 182, 145, 225, 159, 218, 142, 203, 221,
    203, 139, 219, 167, 144, 222, 159, 209, 140, 188,
    150, 218, 166, 221, 146, 185, 223, 156, 213, 141,
    143, 187, 152, 223, 168, 213, 140, 198, 145, 220,
    211, 163, 223, 148, 219, 174, 205, 140, 222, 157,
    142, 169, 222, 147, 211, 188, 144, 152, 225, 218,
    157, 219, 146, 191, 216, 139, 153, 222, 201, 141,
    222, 148, 176, 207, 140, 197, 215, 144, 165, 224,
    220, 202, 141, 217, 158, 224, 144, 181, 221, 151,
    189, 141, 210, 160, 223, 145, 168, 220, 140, 204,
    149, 217, 165, 220, 145, 184, 222, 155, 212, 140,
    145, 189, 154, 225, 170, 215, 142, 200, 147, 222,
    210, 162, 222, 147, 218, 173, 204, 139, 221, 156,
    140, 167, 220, 145, 209, 186, 142, 150, 223, 216,
    161, 223, 150, 195, 220, 143, 157, 226, 205, 145,
    220, 146, 174, 205, 138, 195, 213, 142, 163, 222,
    219, 201, 140, 216, 157, 223, 143, 180, 220, 150,
    191, 143, 212, 162, 225, 147, 170, 222, 142, 206,
    139, 211, 154, 221, 183, 144, 219, 164, 216, 148,
    221, 146, 199, 141, 214, 169, 224, 153, 188, 144,
    159, 224, 142, 207, 176, 221, 150, 225, 165, 213,
    214, 221, 148, 140, 184, 207, 143, 218, 165, 138,
    143, 203, 224, 155, 141, 218, 193, 148, 221, 159,
    225, 166, 145, 216, 198, 141, 208, 177, 149, 223,
    149, 219, 179, 142, 222, 156, 215, 139, 200, 218,
    205, 141, 221, 169, 146, 224, 161, 211, 142, 190,
]

resonant_arg_b = [
    257, 232, 180, 150, 299, 119, 105, 160, 199, 136,
    146, 242, 227, 212, 194, 176, 118, 132, 127, 104,
    256, 108, 121, 175, 142, 249, 238, 188, 215, 158,
    184, 234, 102, 163, 253, 196, 128, 115, 205, 147,
    218, 251, 128, 186, 230, 171, 140, 205, 113, 159,
    115, 124, 168, 185, 236, 153, 197, 225, 110, 212,
    238, 119, 211, 146, 196, 123, 165, 130, 182, 233,
    223, 172, 234, 126, 233, 130, 135, 158, 213, 199,
    222, 178, 225, 230, 143, 204, 226, 151, 134, 131,
    138, 142, 137, 191, 159, 207, 168, 214, 225, 228,
    222, 165, 140, 145, 149, 155, 217, 212, 220, 184,
    225, 200, 145, 215, 222, 189, 147, 170, 142, 154,
    162, 173, 221, 210, 147, 156, 204, 222, 139, 218,
    142, 220, 216, 209, 140, 150, 167, 223, 145, 186,
    195, 226, 161, 143, 145, 223, 205, 220, 157, 150,
    146, 195, 163, 220, 205, 222, 213, 174, 142, 138,
    143, 140, 150, 157, 219, 180, 201, 220, 216, 223,
    162, 222, 191, 147, 206, 143, 142, 225, 170, 212,
    216, 183, 211, 148, 219, 139, 221, 164, 154, 144,
    141, 153, 221, 169, 144, 199, 188, 146, 224, 214,
    148, 140, 211, 174, 157, 163, 222, 219, 205, 223,
    168, 187, 224, 141, 146, 217, 143, 221, 151, 210,
    154, 147, 142, 217, 158, 223, 220, 202, 192, 140,
    207, 144, 222, 197, 224, 148, 165, 140, 215, 176,
    203, 225, 222, 221, 218, 152, 145, 142, 182, 159,
    167, 209, 203, 222, 188, 219, 140, 139, 159, 144,
    223, 166, 141, 146, 150, 213, 218, 185, 221, 156,
    145, 168, 187, 220, 140, 143, 223, 198, 152, 213,
    148, 140, 211, 174, 157, 223, 222, 163, 205, 219,
    144, 222, 218, 211, 142, 225, 169, 188, 147, 152,
    201, 216, 219, 141, 153, 157, 191, 222, 146, 139,
    207, 144, 222, 197, 224, 176, 165, 148, 215, 140,
    144, 141, 151, 158, 220, 221, 202, 224, 217, 181,
    140, 223, 141, 204, 168, 189, 160, 220, 210, 145,
    220, 155, 149, 184, 140, 165, 212, 217, 222, 145,
    142, 154, 222, 170, 145, 147, 189, 215, 225, 200,
    221, 218, 162, 156, 204, 210, 147, 139, 222, 173,
    145, 150, 140, 186, 216, 220, 223, 167, 142, 209,
    157, 150, 145, 220, 161, 205, 223, 143, 195, 226,
    163, 138, 146, 222, 213, 220, 205, 142, 174, 195,
    216, 180, 219, 223, 150, 140, 220, 201, 143, 157,
    170, 212, 206, 225, 191, 142, 143, 147, 162, 222,
    216, 183, 211, 148, 219, 139, 221, 164, 154, 144,
    141, 153, 221, 169, 144, 199, 188, 146, 224, 214,
    150, 142, 213, 176, 159, 165, 224, 221, 207, 225,
    165, 184, 221, 138, 143, 214, 140, 218, 148, 207,
    155, 148, 143, 218, 159, 224, 221, 203, 193, 141,
    208, 145, 223, 198, 225, 149, 166, 141, 216, 177,
    200, 222, 219, 218, 215, 149, 142, 139, 179, 156,
    169, 211, 205, 224, 190, 221, 142, 141, 161, 146,
]

titan_time = [0, 50, 100, 150, 200, 250, 300, 350, 400, 450, 500]
titan_a = [19.200, 19.355, 19.500, 19.630, 19.755, 19.875, 19.990, 20.110, 20.225, 20.345, 20.465]
titan_e = [0.0032, 0.0032, 0.0033, 0.0033, 0.0033, 0.0034, 0.0034, 0.0034, 0.0035, 0.0035, 0.0035]

x_ticks = [0, 100, 200, 300, 400, 500]
x_tick_labels = ["0", "100", "200", "300", "400", "500"]
a_ticks = [19.2, 19.4, 19.6, 19.8, 20.0, 20.2, 20.4, 20.6]
a_tick_labels = ["19.2", "19.4", "19.6", "19.8", "20", "20.2", "20.4", "20.6"]
e_ticks = [0.0, 0.02, 0.04, 0.06, 0.08, 0.1]
e_tick_labels = ["0", "0.02", "0.04", "0.06", "0.08", "0.1"]
phi_ticks = [0, 50, 100, 150, 200, 250, 300, 350]
phi_tick_labels = ["0", "50", "100", "150", "200", "250", "300", "350"]

assert len(time_myr) == len(hyperion_a) == len(hyperion_e) == len(resonant_arg) == 500
assert len(time_myr_b) == len(hyperion_a_b) == len(hyperion_e_b) == len(resonant_arg_b) == 500

src = ColumnDataSource(dict(t=time_myr + time_myr_b, a=hyperion_a + hyperion_a_b,
                            e=hyperion_e + hyperion_e_b, phi=resonant_arg + resonant_arg_b))
tsrc = ColumnDataSource(dict(t=titan_time, a=titan_a, e=titan_e))

# ---------------- layout: three stacked panels in one frame ----------------
# (range name, lower limit, upper limit, panel height in px), top to bottom
panels = [("a", 19.092, 20.6, 308), ("e", 0.0, 0.1192, 309), ("phi", 0.0, 397.5, 307)]
FRAME_W = 528
FRAME_H = sum(p[3] for p in panels)
SIDE_W = 110
TOP, BOTTOM, LEFT, RIGHT = 19, 85, 176 - SIDE_W, 30
TOTAL_H = TOP + FRAME_H + BOTTOM

full = {}
above = 0
for name, lo, hi, h in panels:
    upp = (hi - lo) / h
    below = FRAME_H - above - h
    full[name] = (lo - below * upp, hi + above * upp, upp)
    above += h

main = figure(x_range=Range1d(x_ticks[0], x_ticks[-1]),
              y_range=Range1d(full["phi"][0], full["phi"][1]),
              frame_width=FRAME_W, frame_height=FRAME_H,
              x_axis_type=None, y_axis_type=None, output_backend="svg",
              toolbar_location=None, min_border_left=LEFT, min_border_right=RIGHT,
              min_border_top=TOP, min_border_bottom=BOTTOM)
main.extra_y_ranges = {"a": Range1d(full["a"][0], full["a"][1]),
                       "e": Range1d(full["e"][0], full["e"][1])}
main.outline_line_color = "black"
main.outline_line_width = 3
main.background_fill_color = "white"
main.border_fill_color = "white"


def to_main(v, name):
    lo, hi, _ = full[name]
    mlo, mhi, _ = full["phi"]
    return mlo + (v - lo) * (mhi - mlo) / (hi - lo)


y_ticks_main = ([to_main(v, "a") for v in a_ticks] + [to_main(v, "e") for v in e_ticks]
                + [float(v) for v in phi_ticks])
y_labels_main = a_tick_labels + e_tick_labels + phi_tick_labels

hide_all = CustomLabelingPolicy(code="return new Set()")


def add_axis(place, ticks, labels, tick_len, show, standoff=0):
    ax = LinearAxis(ticker=FixedTicker(ticks=ticks),
                    major_label_overrides=dict(zip(ticks, labels)))
    ax.major_tick_in = tick_len
    ax.major_tick_out = 0
    ax.major_tick_line_width = 2
    ax.major_tick_line_color = "black"
    ax.minor_tick_line_color = None
    ax.axis_line_color = None
    if show:
        ax.major_label_text_font = FONT
        ax.major_label_text_font_size = "23px"
        ax.major_label_text_color = "black"
        ax.major_label_standoff = standoff
    else:
        ax.major_label_text_font_size = "1px"
        ax.major_label_standoff = 0
        ax.major_label_policy = hide_all
    ax.axis_label_text_font = FONT
    ax.axis_label_text_font_size = "30px"
    ax.axis_label_text_font_style = "normal"
    ax.axis_label_text_color = "black"
    main.add_layout(ax, place)
    return ax


add_axis("left", y_ticks_main, y_labels_main, 9, True, 17)
add_axis("right", y_ticks_main, y_labels_main, 9, False)
bx = add_axis("below", x_ticks, x_tick_labels, 7, True, 14)
bx.axis_label = "Time (Myr)"
bx.axis_label_standoff = 4
add_axis("above", x_ticks, x_tick_labels, 7, False)

# Hyperion (points) and Titan (lines)
main.scatter("t", "a", source=src, y_range_name="a", size=3.8, fill_color=PURPLE, line_color=None)
main.scatter("t", "e", source=src, y_range_name="e", size=3.8, fill_color=PURPLE, line_color=None)
main.scatter("t", "phi", source=src, size=3.8, fill_color=PURPLE, line_color=None)
main.line("t", "a", source=tsrc, y_range_name="a", line_width=4, line_color=GREEN)
main.line("t", "e", source=tsrc, y_range_name="e", line_width=5, line_color=GREEN)

# panel borders and their inward ticks
e_lo, e_hi = panels[1][1], panels[1][2]
tl = 7 * full["e"][2]
n = len(x_ticks)
inner = ColumnDataSource(dict(
    x=x_ticks * 4,
    y0=[e_hi] * (2 * n) + [e_lo] * (2 * n),
    y1=[e_hi + tl] * n + [e_hi - tl] * n + [e_lo + tl] * n + [e_lo - tl] * n))
main.segment(x0="x", y0="y0", x1="x", y1="y1", source=inner, y_range_name="e",
             line_color="black", line_width=2)
main.segment(x0=[x_ticks[0]] * 2, x1=[x_ticks[-1]] * 2, y0=[e_hi, e_lo], y1=[e_hi, e_lo],
             y_range_name="e", line_color="black", line_width=3)


def annot(x, y, text, color, rng):
    main.add_layout(Label(x=x, y=y, y_range_name=rng, text=text, text_font=FONT,
                          text_font_size="30px", text_font_style="bold", text_color=color,
                          text_baseline="alphabetic", text_align="left"))


annot(15, 20.348, "4:3 MMR with Hyperion", PURPLE, "a")
annot(80.2, 19.254, "Titan", GREEN, "a")
annot(40.9, 0.0754, "Hyperion", PURPLE, "e")
annot(200.9, 0.00967, "Titan", GREEN, "e")

# ---------------- y-axis titles (left strip) ----------------
side = figure(x_range=Range1d(0, SIDE_W), y_range=Range1d(0, TOTAL_H),
              frame_width=SIDE_W, frame_height=TOTAL_H, min_border=0,
              x_axis_type=None, y_axis_type=None, output_backend="svg",
              toolbar_location=None)
side.outline_line_color = None
side.background_fill_color = "white"
side.border_fill_color = "white"


def ytitle(x, y_page, text, size, align):
    side.add_layout(Label(x=x, y=TOTAL_H - y_page, text=text, angle=90, angle_units="deg",
                          text_font=FONT, text_font_size=size, text_color="black",
                          text_align=align, text_baseline="alphabetic"))


ytitle(75, 311.5, "Semimajor Axis (R", "31px", "left")
ytitle(81, 54.9, "S", "22px", "left")
ytitle(75, 40.2, ")", "31px", "left")
ytitle(75, 481.5, "Eccentricity", "30px", "center")
ytitle(90, 790, "Resonant argument (°)", "30px", "center")

layout = row(side, main, spacing=0)

with open("out.html", "w", encoding="utf-8") as f:
    f.write(file_html(layout, INLINE, title="Hyperion 4:3 MMR"))
